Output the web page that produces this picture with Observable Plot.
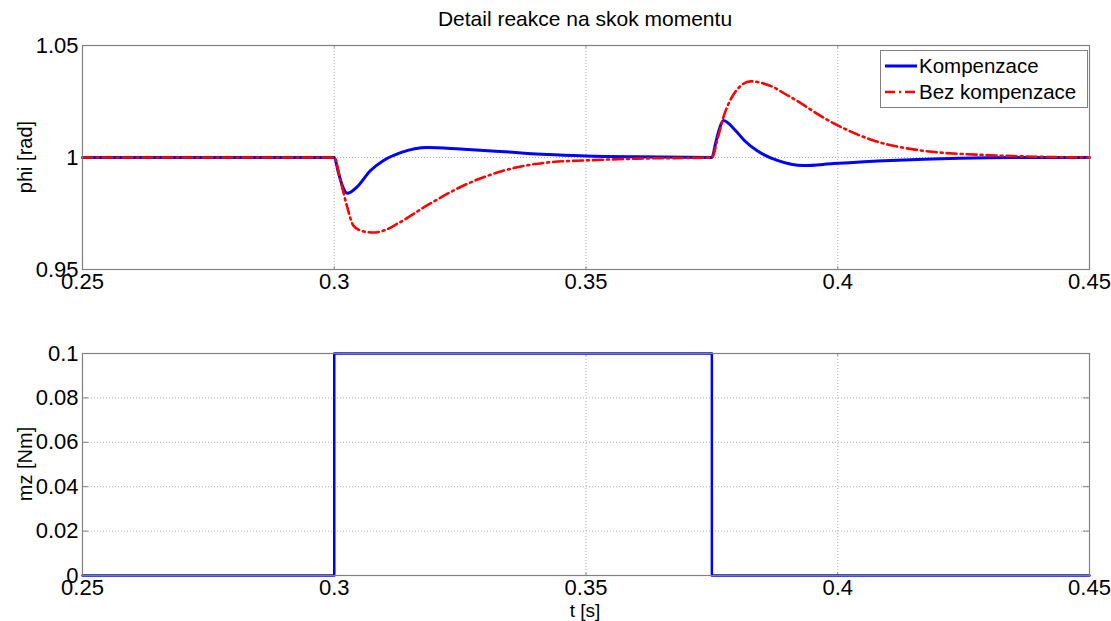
<!DOCTYPE html>
<html><head><meta charset="utf-8">
<script src="https://cdn.jsdelivr.net/npm/d3@7"></script>
<script src="https://cdn.jsdelivr.net/npm/@observablehq/plot@0.6"></script>
<style>
body{margin:0;background:#fff;font-family:"Liberation Sans",Arial,sans-serif;}
#wrap{position:relative;width:1111px;height:621px;overflow:hidden;}
.abs{position:absolute;}
.lbl{font-size:19px;color:#000;}
</style></head>
<body><div id="wrap"></div>
<script>
// ---- data ----
const title = "Detail reakce na skok momentu";
const seriesNames = ["Kompenzace", "Bez kompenzace"];
const xTicks = [0.25, 0.3, 0.35, 0.4, 0.45];
const yTicksTop = [0.95, 1, 1.05];
const yTicksBottom = [0, 0.02, 0.04, 0.06, 0.08, 0.1];

const tK = [0.25, 0.3, 0.3008, 0.3016, 0.3026, 0.3045, 0.3072, 0.3098, 0.3132, 0.3185, 0.325, 0.333, 0.3424, 0.35, 0.36, 0.375, 0.3758, 0.3766, 0.3773, 0.3795, 0.3815, 0.384, 0.388, 0.3932, 0.3992, 0.4105, 0.424, 0.435, 0.45];
const phiK = [1, 1, 0.9935, 0.9875, 0.984, 0.9868, 0.9942, 0.9987, 1.0022, 1.0045, 1.0038, 1.0027, 1.0013, 1.0007, 1.0003, 1, 1.007, 1.0135, 1.0165, 1.0125, 1.0075, 1.003, 0.9987, 0.9964, 0.9973, 0.9987, 0.9997, 1.0, 1];

const tB = [0.25, 0.3, 0.3012, 0.3026, 0.3038, 0.3055, 0.3078, 0.31, 0.3126, 0.3191, 0.3257, 0.3324, 0.3424, 0.35, 0.36, 0.375, 0.3762, 0.3773, 0.379, 0.3827, 0.386, 0.3906, 0.3992, 0.4071, 0.417, 0.4303, 0.44, 0.45];
const phiB = [1, 1, 0.99, 0.9777, 0.9696, 0.9672, 0.9665, 0.9675, 0.9705, 0.9795, 0.9875, 0.9933, 0.9978, 0.9987, 0.9995, 1, 1.009, 1.018, 1.027, 1.034, 1.0325, 1.027, 1.0152, 1.0076, 1.003, 1.001, 1.0003, 1];

const tM = [0.25, 0.3, 0.375, 0.45];
const mz = [0, 0.1, 0, 0];

// ---- helpers ----
const K = tK.map((t, i) => ({t, v: phiK[i]}));
const B = tB.map((t, i) => ({t, v: phiB[i]}));
const M = tM.map((t, i) => ({t, v: mz[i]}));
const fmt = d => String(+d.toFixed(3));
const frameColor = "#808080";
const blue = "#0000ff", red = "#ff0000";

function panel({height, marginTop, marginBottom, yDomain, yTicks, marks}) {
  const [y0, y1] = yDomain;
  const ty = (y1 - y0) * 0.012;
  const tx = (0.45 - 0.25) * 0.006;
  return Plot.plot({
    width: 1111, height, marginLeft: 82, marginRight: 22, marginTop, marginBottom,
    style: {fontFamily: "'Liberation Sans', Arial, sans-serif", fontSize: "22px", color: "#000", background: "transparent", overflow: "visible"},
    x: {domain: [0.25, 0.45], ticks: xTicks, tickFormat: fmt, tickSize: 0, tickPadding: 4, label: null},
    y: {domain: yDomain, ticks: yTicks, tickFormat: fmt, tickSize: 0, tickPadding: 4, label: null},
    marks: [
      Plot.ruleX(xTicks.slice(1, -1), {stroke: "#b0b0b0", strokeDasharray: "1,2", strokeWidth: 1}),
      Plot.ruleY(yTicks.slice(1, -1), {stroke: "#b0b0b0", strokeDasharray: "1,2", strokeWidth: 1}),
      Plot.ruleX(xTicks, {y1: y0, y2: y0 + ty, stroke: frameColor}),
      Plot.ruleX(xTicks, {y1: y1, y2: y1 - ty, stroke: frameColor}),
      Plot.ruleY(yTicks, {x1: 0.25, x2: 0.25 + tx, stroke: frameColor}),
      Plot.ruleY(yTicks, {x1: 0.45, x2: 0.45 - tx, stroke: frameColor}),
      ...marks,
      Plot.frame({stroke: frameColor, strokeWidth: 1.2})
    ]
  });
}

const wrap = document.getElementById("wrap");

const topPanel = panel({
  height: 310, marginTop: 45, marginBottom: 41,
  yDomain: [0.95, 1.05], yTicks: yTicksTop,
  marks: [
    Plot.line(K, {x: "t", y: "v", stroke: blue, strokeWidth: 3, curve: "monotone-x"}),
    Plot.line(B, {x: "t", y: "v", stroke: red, strokeWidth: 2.6, strokeDasharray: "10,4,2,4", curve: "monotone-x"})
  ]
});
topPanel.classList.add("abs"); topPanel.style.left = "0px"; topPanel.style.top = "0px";
wrap.appendChild(topPanel);

const bottomPanel = panel({
  height: 311, marginTop: 43, marginBottom: 46,
  yDomain: [0, 0.1], yTicks: yTicksBottom,
  marks: [
    Plot.line(M, {x: "t", y: "v", stroke: blue, strokeWidth: 2.5, curve: "step-after"})
  ]
});
bottomPanel.classList.add("abs"); bottomPanel.style.left = "0px"; bottomPanel.style.top = "310px";
wrap.appendChild(bottomPanel);

// title and axis labels
function label(text, css) {
  const d = document.createElement("div");
  d.className = "abs lbl";
  d.textContent = text;
  Object.assign(d.style, css);
  wrap.appendChild(d);
  return d;
}
label(title, {left: "335px", width: "500px", textAlign: "center", top: "7px", fontSize: "21px"});
label("phi [rad]", {left: "25px", top: "157px", transform: "translate(-50%,-50%) rotate(-90deg)", whiteSpace: "nowrap", fontSize: "20px"});
label("mz [Nm]", {left: "25px", top: "464px", transform: "translate(-50%,-50%) rotate(-90deg)", whiteSpace: "nowrap", fontSize: "20px"});
label("t [s]", {left: "485px", width: "200px", textAlign: "center", top: "601px", fontSize: "19px", lineHeight: "20px"});

// legend
const leg = document.createElement("div");
leg.className = "abs";
Object.assign(leg.style, {left: "880px", top: "50px", width: "206px", height: "56px", border: "1px solid #808080", background: "#fff"});
const colors = [blue, red];
const dashes = ["", "10,4,2,4"];
leg.innerHTML = seriesNames.map((n, i) =>
  `<div style="position:absolute;left:3px;top:${3 + i * 26}px;height:24px;display:flex;align-items:center;white-space:nowrap;font-size:20.5px;">
     <svg width="34" height="10"><line x1="1" y1="5" x2="33" y2="5" stroke="${colors[i]}" stroke-width="${i ? 2.6 : 3}" stroke-dasharray="${dashes[i]}"/></svg>
     <span style="margin-left:1px">${n}</span></div>`).join("");
wrap.appendChild(leg);
</script>
</body></html>
